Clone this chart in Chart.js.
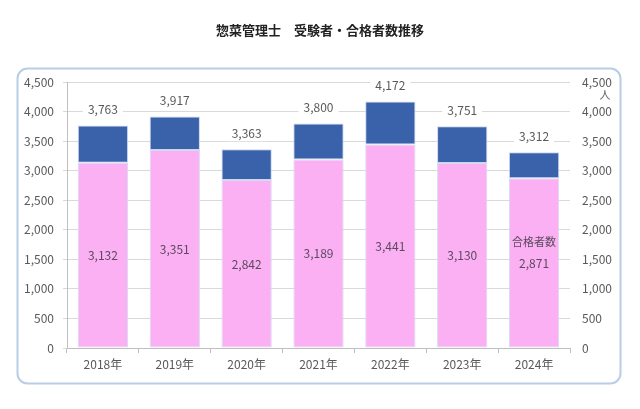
<!DOCTYPE html>
<html>
<head>
<meta charset="utf-8">
<script src="https://cdn.jsdelivr.net/npm/chart.js@4"></script>
<style>
  html, body { margin: 0; padding: 0; background: #fff; }
  #wrap { width: 640px; height: 409px; }
</style>
</head>
<body>
<div id="wrap"><canvas id="chart" width="640" height="409"></canvas></div>
<script>
// データ
const years = ['2018年', '2019年', '2020年', '2021年', '2022年', '2023年', '2024年'];
const applicants = [3763, 3917, 3363, 3800, 4172, 3751, 3312];   // 受験者数
const passers = [3132, 3351, 2842, 3189, 3441, 3130, 2871];      // 合格者数
const yTicks = [0, 500, 1000, 1500, 2000, 2500, 3000, 3500, 4000, 4500];

const chartTitle = '惣菜管理士　受験者・合格者数推移';
const jpFont = '"Noto Sans CJK JP", "Noto Sans", sans-serif';

// 不合格分（積み上げ用）
const others = applicants.map((v, i) => v - passers[i]);

function fmt(n) {
    return n.toLocaleString('en-US');
}

// 枠・タイトル・ラベル
const decorPlugin = {
    id: 'decor',
    beforeDraw(chart) {
        const ctx = chart.ctx;
        ctx.save();
        ctx.fillStyle = '#fff';
        ctx.fillRect(0, 0, chart.width, chart.height);
        // 角丸の枠
        ctx.strokeStyle = '#b9cde6';
        ctx.lineWidth = 2;
        ctx.beginPath();
        ctx.roundRect(17.5, 68.5, 603, 315, 10);
        ctx.stroke();
        // タイトル
        ctx.fillStyle = '#222';
        ctx.font = 'bold 13px ' + jpFont;
        ctx.textAlign = 'center';
        ctx.textBaseline = 'middle';
        ctx.fillText(chartTitle, 320, 30);
        // 単位
        ctx.fillStyle = '#666';
        ctx.font = '11px ' + jpFont;
        ctx.fillText('人', 605, 95);
        ctx.restore();
    },
    afterDatasetsDraw(chart) {
        const ctx = chart.ctx;
        const yScale = chart.scales.y;
        const meta0 = chart.getDatasetMeta(0);
        ctx.save();
        ctx.font = '12px ' + jpFont;
        ctx.textAlign = 'center';
        ctx.textBaseline = 'middle';
        meta0.data.forEach((bar, i) => {
            // 合格者数（ピンク中央）
            const yMid = yScale.getPixelForValue(passers[i] / 2);
            ctx.fillStyle = '#5a4a5e';
            ctx.fillText(fmt(passers[i]), bar.x, yMid);
            if (i === years.length - 1) {
                ctx.font = '11px ' + jpFont;
                ctx.fillText('合格者数', bar.x, yMid - 21);
                ctx.font = '12px ' + jpFont;
            }
            // 受験者数（上）
            const yTop = yScale.getPixelForValue(applicants[i]) - 16;
            const txt = fmt(applicants[i]);
            const w = ctx.measureText(txt).width + 10;
            ctx.fillStyle = '#fff';
            ctx.fillRect(bar.x - w / 2, yTop - 8, w, 16);
            ctx.fillStyle = '#595959';
            ctx.fillText(txt, bar.x, yTop);
        });
        ctx.restore();
    }
};

const ctx = document.getElementById('chart').getContext('2d');
new Chart(ctx, {
    type: 'bar',
    data: {
        labels: years,
        datasets: [{
            label: '合格者数',
            data: passers,
            backgroundColor: '#fbb0f3',
            borderColor: '#d3dcf2',
            borderWidth: 1,
            borderSkipped: false,
            stack: 's'
        }, {
            label: '受験者数',
            data: others,
            backgroundColor: '#3a62aa',
            borderColor: '#c9d6ee',
            borderWidth: 1,
            borderSkipped: false,
            stack: 's'
        }]
    },
    options: {
        responsive: false,
        animation: false,
        layout: { padding: { top: 82, bottom: 0, left: 0, right: 0 } },
        datasets: { bar: { categoryPercentage: 1, barPercentage: 0.7 } },
        plugins: {
            legend: { display: false },
            tooltip: { enabled: false }
        },
        scales: {
            x: {
                stacked: true,
                grid: { drawOnChartArea: false, color: '#bfbfbf', tickLength: 5 },
                border: { color: '#bfbfbf' },
                ticks: { color: '#595959', font: { size: 12, family: jpFont }, padding: 4 },
                afterFit(s) { s.height = 61; }
            },
            y: {
                stacked: true,
                min: 0, max: 4500,
                afterBuildTicks(s) { s.ticks = yTicks.map(v => ({ value: v })); },
                grid: { color: '#d9d9d9', tickLength: 4 },
                border: { color: '#bfbfbf' },
                ticks: {
                    color: '#595959', font: { size: 12, family: jpFont }, padding: 9,
                    callback: v => fmt(v)
                },
                afterFit(s) { s.width = 67; }
            },
            y1: {
                position: 'right',
                min: 0, max: 4500,
                afterBuildTicks(s) { s.ticks = yTicks.map(v => ({ value: v })); },
                grid: { drawOnChartArea: false, color: '#d9d9d9', tickLength: 0 },
                border: { display: false },
                ticks: {
                    color: '#595959', font: { size: 12, family: jpFont }, padding: 12,
                    callback: v => fmt(v)
                },
                afterFit(s) { s.width = 70; }
            }
        }
    },
    plugins: [decorPlugin]
});
</script>
</body>
</html>
